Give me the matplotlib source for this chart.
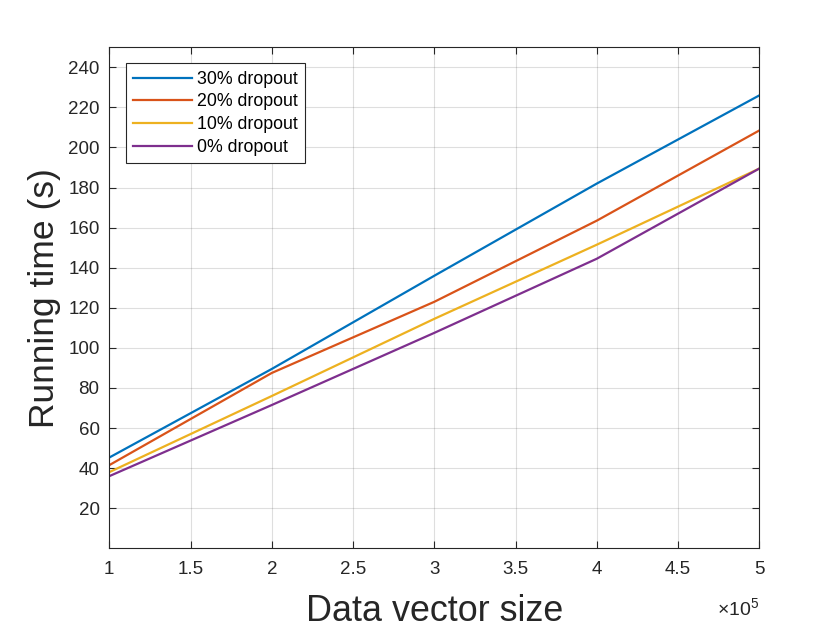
import numpy as np
import matplotlib
matplotlib.use("Agg")
import matplotlib.pyplot as plt
from matplotlib.ticker import FixedLocator, FuncFormatter

plt.rcParams['font.family'] = ['Liberation Sans', 'DejaVu Sans']
plt.rcParams['mathtext.fontset'] = 'custom'
plt.rcParams['mathtext.rm'] = 'Liberation Sans'
plt.rcParams['mathtext.it'] = 'Liberation Sans'

# Data
sizes = [100000, 200000, 300000, 400000, 500000]
labels = ['30% dropout', '20% dropout', '10% dropout', '0% dropout']
drop30 = [45.3, 89.5, 136.0, 182.0, 226.0]
drop20 = [41.5, 87.5, 123.0, 163.5, 208.5]
drop10 = [38.0, 76.0, 114.5, 151.5, 189.5]
drop0 = [36.0, 71.5, 107.5, 144.5, 189.5]
xticks = [1, 1.5, 2, 2.5, 3, 3.5, 4, 4.5, 5]
yticks = [20, 40, 60, 80, 100, 120, 140, 160, 180, 200, 220, 240]

colors = ['#0072BD', '#D95319', '#EDB120', '#7E2F8E']
txt = '#262626'

fig = plt.figure(figsize=(8.4, 6.3), dpi=100)
ax = fig.add_axes([109.3/840, 1-548.3/630, 650/840, 501/630])

x = np.array(sizes) / 1e5
for ys, lab, c in zip([drop30, drop20, drop10, drop0], labels, colors):
    ax.plot(x, ys, color=c, lw=1.6, label=lab)

ax.set_xlim(1, 5)
ax.set_ylim(0, 250)
ax.xaxis.set_major_locator(FixedLocator(xticks))
ax.yaxis.set_major_locator(FixedLocator(yticks))
ax.xaxis.set_major_formatter(FuncFormatter(lambda v, p: f'{v:g}'))
ax.yaxis.set_major_formatter(FuncFormatter(lambda v, p: f'{v:g}'))

ax.grid(True, color=txt, alpha=0.15, lw=0.8)
ax.set_axisbelow(True)
for s in ax.spines.values():
    s.set_color(txt)
    s.set_linewidth(0.8)
ax.tick_params(direction='in', length=5, width=0.8, color=txt, labelcolor=txt,
               labelsize=13.5, top=True, right=True)
ax.tick_params(axis='x', pad=9)
ax.tick_params(axis='y', pad=7)

ax.set_xlabel('Data vector size', fontsize=25.8, color=txt, labelpad=12)
ax.set_ylabel('Running time (s)', fontsize=25.5, color=txt, labelpad=5)

ax.text(1.0, -0.097, r'$\times10^{5}$', transform=ax.transAxes, ha='right', va='top',
        fontsize=14, color=txt)

leg = ax.legend(loc='upper left',
                bbox_to_anchor=((125.7-109.3)/650, 1-(63.3-47.3)/501),
                borderaxespad=0, fontsize=12.8, handlelength=3.3, handletextpad=0.3,
                labelspacing=0.32, borderpad=0.42, fancybox=False, framealpha=1,
                edgecolor=txt)
leg.get_frame().set_linewidth(0.8)
for t in leg.get_texts():
    t.set_color('black')

fig.savefig('out.png', dpi=100)
